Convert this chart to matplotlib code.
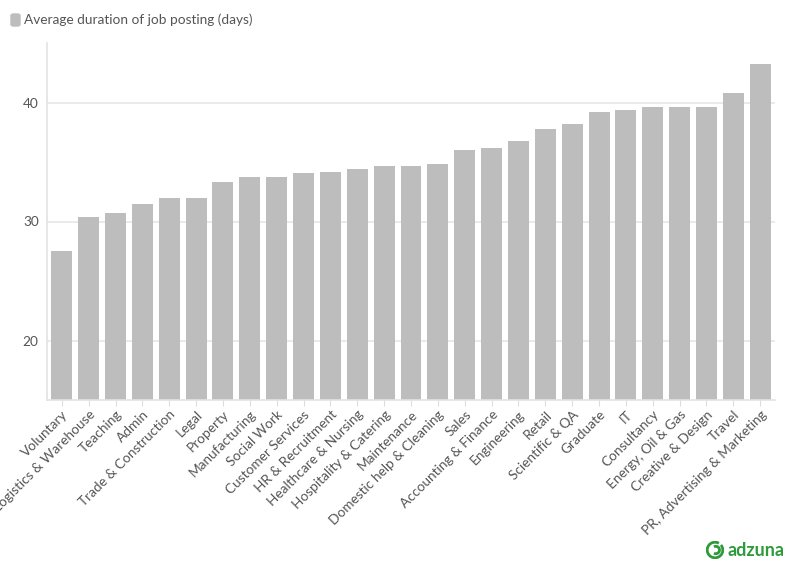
import numpy as np
import matplotlib.pyplot as plt
from matplotlib.patches import FancyBboxPatch, Arc

plt.rcParams['font.family'] = ['Lato', 'DejaVu Sans']

categories = ['Voluntary', 'Logistics & Warehouse', 'Teaching', 'Admin',
              'Trade & Construction', 'Legal', 'Property', 'Manufacturing',
              'Social Work', 'Customer Services', 'HR & Recruitment',
              'Healthcare & Nursing', 'Hospitality & Catering', 'Maintenance',
              'Domestic help & Cleaning', 'Sales', 'Accounting & Finance',
              'Engineering', 'Retail', 'Scientific & QA', 'Graduate', 'IT',
              'Consultancy', 'Energy, Oil & Gas', 'Creative & Design', 'Travel',
              'PR, Advertising & Marketing']
days = [27.5, 30.4, 30.7, 31.5, 32.0, 32.0, 33.3, 33.7, 33.7, 34.1, 34.2,
        34.4, 34.7, 34.7, 34.8, 36.0, 36.2, 36.8, 37.8, 38.2, 39.2, 39.4,
        39.6, 39.6, 39.6, 40.8, 43.2]
yticks = [20, 30, 40]

W, H = 796, 575
fig = plt.figure(figsize=(W / 100, H / 100), dpi=100)
ax = fig.add_axes([47 / W, 1 - 400 / H, (775 - 47) / W, (400 - 43) / H])

x = np.arange(len(categories))
ax.bar(x, days, width=0.78, color='#bdbdbd', zorder=2)

ax.set_xlim(-0.55, len(categories) - 0.45)
ax.set_ylim(15, 45)
ax.set_yticks(yticks)
ax.grid(axis='y', color='#e6e6e6', lw=1.2, zorder=0)
ax.tick_params(axis='y', length=0, labelsize=9.8, labelcolor='#555555', pad=6)
ax.tick_params(axis='x', length=4, color='#dddddd', labelsize=9.8,
               labelcolor='#555555', pad=2)
ax.set_xticks(x)
ax.set_xticklabels(categories, rotation=45, ha='right', rotation_mode='anchor')

for side in ['top', 'right']:
    ax.spines[side].set_visible(False)
for side in ['left', 'bottom']:
    ax.spines[side].set_color('#e3e3e3')
    ax.spines[side].set_linewidth(1.2)

# legend
fig.patches.append(FancyBboxPatch((11 / W, 1 - 26 / H), 9 / W, 12 / H,
                                  boxstyle='round,pad=0,rounding_size=0.003',
                                  transform=fig.transFigure, color='#bdbdbd'))
fig.text(24 / W, 1 - 20 / H, 'Average duration of job posting (days)',
         fontsize=9.8, color='#555555', va='center', ha='left')

# adzuna logo
green = '#2e9a3c'
fig.text(727 / W, 1 - 550 / H, 'adzuna', fontsize=13, fontweight='bold',
         color=green, va='center', ha='left')
logo_ax = fig.add_axes([706 / W, 1 - 559 / H, 18 / W, 18 / H])
logo_ax.set_xlim(-1.1, 1.1)
logo_ax.set_ylim(-1.1, 1.1)
logo_ax.set_aspect('equal')
logo_ax.axis('off')
logo_ax.add_patch(Arc((0, 0), 1.9, 1.9, theta1=60, theta2=400, color=green, lw=2.0))
logo_ax.add_patch(Arc((0.1, 0), 0.9, 0.9, theta1=240, theta2=480, color=green, lw=2.0))

fig.savefig('out.png', dpi=100)
